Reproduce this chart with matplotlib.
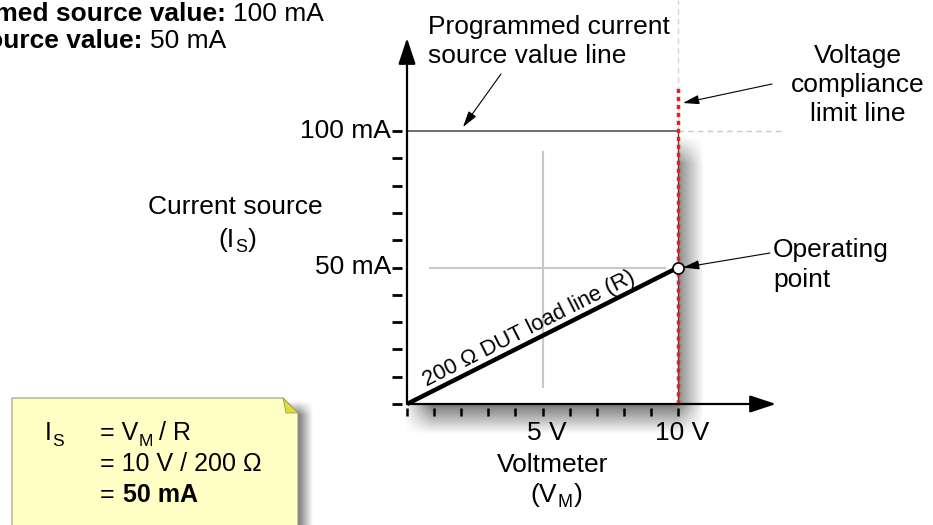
import numpy as np
import matplotlib.pyplot as plt
from matplotlib.patches import Polygon, Rectangle

plt.rcParams['font.family'] = ['Liberation Sans', 'DejaVu Sans']
plt.rcParams['font.size'] = 19

# data
volt_ticks = [0, 1, 2, 3, 4, 5, 6, 7, 8, 9, 10]
volt_labels = {5: "5 V", 10: "10 V"}
current_ticks = [0, 10, 20, 30, 40, 50, 60, 70, 80, 90, 100]
current_labels = {50: "50 mA", 100: "100 mA"}
load_v = [0, 10]          # 200 ohm DUT load line
load_i = [0, 50]
programmed_i = 100        # programmed current source value (mA)
compliance_v = 10         # voltage compliance limit (V)
op_v, op_i = 10, 50       # operating point

# pixel layout -> data
X0, Y0 = 407, 404
SX, SY = 27.1, 2.73
W, H = 933, 525


def px(x, y):
    return (x - X0) / SX, (Y0 - y) / SY


def soft_shadow(ax, x0, x1, y0, y1, left, right, top, bottom, blur, amax, z):
    # blurred box shadow as RGBA image (pixel coords)
    xs = np.arange(x0, x1) + 0.5
    ys = np.arange(y0, y1) + 0.5
    fx = np.clip((xs - left) / blur + 0.5, 0, 1) * np.clip((right - xs) / blur + 0.5, 0, 1)
    fy = np.clip((ys - top) / blur + 0.5, 0, 1) * np.clip((bottom - ys) / blur + 0.5, 0, 1)
    a = np.outer(fy, fx) * amax
    img = np.zeros((len(ys), len(xs), 4))
    img[..., 3] = a
    l, t = px(x0, y0)
    r, b = px(x1, y1)
    ax.imshow(img, extent=(l, r, b, t), origin='upper', aspect='auto',
              interpolation='bilinear', zorder=z)


def sub_text(x, y, base, sub, tail='', gap=1, size=19, subsize=13, z=3):
    # base text + low small subscript + tail, chained on the rendered boxes
    t = ax.text(x, y, base, ha='left', va='center', fontsize=size, zorder=z)
    s = ax.annotate(sub, xy=(1, 0), xycoords=t, xytext=(0.5, -3), textcoords='offset points',
                    ha='left', va='bottom', fontsize=subsize, zorder=z)
    if tail:
        ax.annotate(tail, xy=(1, 0), xycoords=(s, t), xytext=(gap, 0), textcoords='offset points',
                    ha='left', va='bottom', fontsize=size, zorder=z)


fig = plt.figure(figsize=(W / 100, H / 100), dpi=100)
ax = fig.add_axes([0, 0, 1, 1])

# soft shadow behind chart box
soft_shadow(ax, 400, 720, 120, 445, 418, 690, 150, 420, 28, 0.5, 0)
ax.add_patch(Rectangle((0, 0), compliance_v, programmed_i, fc='white', ec='none', zorder=0.5))

# crosshair
ax.plot([5, 5], [px(0, 387)[1], px(0, 152)[1]], color='#c8c8c8', lw=1.5, zorder=1)
ax.plot([px(430, 0)[0], px(665, 0)[0]], [50, 50], color='#c8c8c8', lw=1.5, zorder=1)

# programmed current line + compliance line
ax.plot([0, compliance_v], [programmed_i, programmed_i], color='#555555', lw=1.2, zorder=2)
ax.plot([compliance_v, px(785, 0)[0]], [programmed_i, programmed_i], color='#c8c8c8', lw=1,
        ls=(0, (4, 3)), zorder=2)
ax.plot([compliance_v, compliance_v], [0, programmed_i], color='#444444', lw=1.0, zorder=2)
ax.plot([compliance_v, compliance_v], [programmed_i, px(0, 0)[1]], color='#d5d5d5', lw=1,
        ls=(0, (4, 3)), zorder=2)
ax.plot([compliance_v, compliance_v], [0, px(0, 88)[1]], color='#ee1c25', lw=2.5,
        ls=(0, (1.2, 1.1)), zorder=3)

# load line and operating point
ax.plot(load_v, load_i, color='black', lw=3.2, solid_capstyle='butt', zorder=4)
ax.plot([op_v], [op_i], 'o', ms=8, mfc='white', mec='black', mew=1.2, zorder=6)
ang = np.degrees(np.arctan2(50 * SY, 10 * SX))
lx, ly = px(529, 329)
ax.text(lx, ly, "200 Ω DUT load line (R)", rotation=ang, rotation_mode='anchor',
        ha='center', va='center', fontsize=15.8, zorder=5)

# axes with arrows
arrow_kw = dict(arrowstyle='-|>,head_length=1.0,head_width=0.33', color='black', lw=1.6,
                mutation_scale=16, shrinkA=0, shrinkB=0)
ax.annotate('', xy=px(X0, 38), xytext=(0, 0), arrowprops=arrow_kw, zorder=7)
ax.annotate('', xy=px(776, Y0), xytext=(0, 0), arrowprops=arrow_kw, zorder=7)

# ticks
ax.plot([px(397.5, 0)[0]] * len(current_ticks), current_ticks, ls='none', marker='_',
        ms=7, mew=2, color='black', zorder=7)
ax.plot(volt_ticks, [px(0, 411.5)[1]] * len(volt_ticks), ls='none', marker='|',
        ms=6, mew=1.8, color='black', zorder=7)
for v, lab in volt_labels.items():
    ax.text(v + 0.15, px(0, 433)[1], lab, ha='center', va='center')
for c, lab in current_labels.items():
    ax.text(px(391, 0)[0], c, lab, ha='right', va='center')

# axis titles
ax.text(*px(235, 207), "Current source", ha='center', va='center')
sub_text(*px(218, 240), "(I", "S", ")")
ax.text(*px(553, 465), "Voltmeter", ha='center', va='center')
sub_text(*px(530, 495), "(V", "M", ")")

# callouts
note_kw = dict(arrowstyle='-|>,head_length=0.7,head_width=0.2', color='black', lw=0.8,
               mutation_scale=14, shrinkA=0, shrinkB=0)
ax.text(*px(428, 63), "Programmed current\nsource value line", ha='left', va='baseline',
        linespacing=1.28)
ax.annotate('', xy=px(463, 127), xytext=px(501, 74), arrowprops=note_kw)
ax.text(*px(858, 85), "Voltage\ncompliance\nlimit line", ha='center', va='center',
        linespacing=1.28)
ax.annotate('', xy=px(683, 103), xytext=px(772, 84), arrowprops=note_kw)
ax.text(*px(773, 265), "Operating\npoint", ha='left', va='center', linespacing=1.3)
ax.annotate('', xy=(op_v + 5 / SX, op_i), xytext=px(770, 253), arrowprops=note_kw)

# top-left (clipped) legend text
ax.text(*px(226, 21), "Programmed source value:", ha='right', va='baseline', fontweight='bold')
ax.text(*px(233, 21), "100 mA", ha='left', va='baseline')
ax.text(*px(142, 48), "Measured source value:", ha='right', va='baseline', fontweight='bold')
ax.text(*px(150, 48), "50 mA", ha='left', va='baseline')

# sticky note
soft_shadow(ax, 280, 320, 395, 525, 20, 306, 408, 560, 14, 0.5, 8)
ax.add_patch(Polygon([px(12, 398), px(283, 398), px(298, 413), px(298, 540), px(12, 540)],
                     closed=True, fc='#ffffc6', ec='#9a9a80', lw=0.8, zorder=9))
ax.add_patch(Polygon([px(283, 398), px(298, 413), px(286, 413)], closed=True,
                     fc='#dcdc3a', ec='#9a9a60', lw=0.6, zorder=10))
sub_text(*px(45, 433), "I", "S", size=18, subsize=12.5, z=11)
sub_text(*px(100, 433), "= V", "M", "/ R", gap=4, size=18, subsize=12.5, z=11)
ax.text(*px(100, 464), "= 10 V / 200 Ω", ha='left', va='center', fontsize=18, zorder=11)
ax.text(*px(100, 495), "=", ha='left', va='center', fontsize=18, zorder=11)
ax.text(*px(123, 495), "50 mA", ha='left', va='center', fontsize=18, fontweight='bold',
        zorder=11)

ax.set_xlim(px(0, 0)[0], px(W, 0)[0])
ax.set_ylim(px(0, H)[1], px(0, 0)[1])
ax.axis('off')

fig.savefig('out.png', dpi=100)
